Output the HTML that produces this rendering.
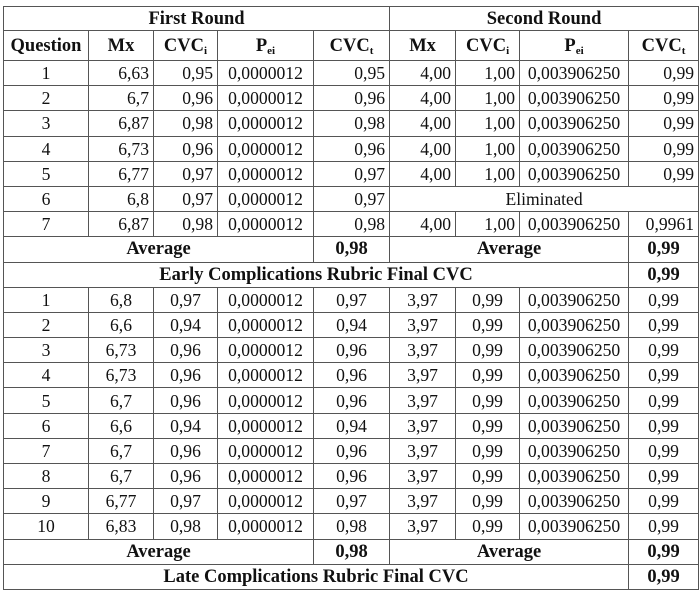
<!DOCTYPE html>
<html><head><meta charset="utf-8"><style>
html,body{margin:0;padding:0;background:#fff;}
table{position:absolute;left:3px;top:6px;border-collapse:collapse;table-layout:fixed;width:695px;font-family:"Liberation Serif",serif;font-size:17.6px;color:#111;}
td{border:1px solid #555;padding:0 4px;height:24.2px;line-height:18px;text-align:center;white-space:nowrap;overflow:hidden;}
.r{text-align:right;}
.b td,td.b{font-weight:bold;font-size:18.5px;}
tr.h0 td{height:23px;}
tr.h1 td{height:29px;font-weight:bold;font-size:18.5px;}
sub{font-size:11px;vertical-align:-3px;line-height:0;}
</style></head><body>
<table>
<colgroup><col style="width:85px"><col style="width:65px"><col style="width:64px"><col style="width:96px"><col style="width:76px"><col style="width:66px"><col style="width:64px"><col style="width:109px"><col style="width:70px"></colgroup>
<tr class="h0"><td colspan="5" class="b">First Round</td><td colspan="4" class="b">Second Round</td></tr>
<tr class="h1"><td>Question</td><td>Mx</td><td>CVC<sub>i</sub></td><td>P<sub>ei</sub></td><td>CVC<sub>t</sub></td><td>Mx</td><td>CVC<sub>i</sub></td><td>P<sub>ei</sub></td><td>CVC<sub>t</sub></td></tr>
<tr><td>1</td><td class="r">6,63</td><td class="r">0,95</td><td>0,0000012</td><td class="r">0,95</td><td class="r">4,00</td><td class="r">1,00</td><td>0,003906250</td><td class="r">0,99</td></tr>
<tr><td>2</td><td class="r">6,7</td><td class="r">0,96</td><td>0,0000012</td><td class="r">0,96</td><td class="r">4,00</td><td class="r">1,00</td><td>0,003906250</td><td class="r">0,99</td></tr>
<tr><td>3</td><td class="r">6,87</td><td class="r">0,98</td><td>0,0000012</td><td class="r">0,98</td><td class="r">4,00</td><td class="r">1,00</td><td>0,003906250</td><td class="r">0,99</td></tr>
<tr><td>4</td><td class="r">6,73</td><td class="r">0,96</td><td>0,0000012</td><td class="r">0,96</td><td class="r">4,00</td><td class="r">1,00</td><td>0,003906250</td><td class="r">0,99</td></tr>
<tr><td>5</td><td class="r">6,77</td><td class="r">0,97</td><td>0,0000012</td><td class="r">0,97</td><td class="r">4,00</td><td class="r">1,00</td><td>0,003906250</td><td class="r">0,99</td></tr>
<tr><td>6</td><td class="r">6,8</td><td class="r">0,97</td><td>0,0000012</td><td class="r">0,97</td><td colspan="4">Eliminated</td></tr>
<tr><td>7</td><td class="r">6,87</td><td class="r">0,98</td><td>0,0000012</td><td class="r">0,98</td><td class="r">4,00</td><td class="r">1,00</td><td>0,003906250</td><td class="r">0,9961</td></tr>
<tr class="b"><td colspan="4">Average</td><td>0,98</td><td colspan="3">Average</td><td>0,99</td></tr>
<tr class="b"><td colspan="8">Early Complications Rubric Final CVC</td><td>0,99</td></tr>
<tr><td>1</td><td>6,8</td><td>0,97</td><td>0,0000012</td><td>0,97</td><td>3,97</td><td>0,99</td><td>0,003906250</td><td>0,99</td></tr>
<tr><td>2</td><td>6,6</td><td>0,94</td><td>0,0000012</td><td>0,94</td><td>3,97</td><td>0,99</td><td>0,003906250</td><td>0,99</td></tr>
<tr><td>3</td><td>6,73</td><td>0,96</td><td>0,0000012</td><td>0,96</td><td>3,97</td><td>0,99</td><td>0,003906250</td><td>0,99</td></tr>
<tr><td>4</td><td>6,73</td><td>0,96</td><td>0,0000012</td><td>0,96</td><td>3,97</td><td>0,99</td><td>0,003906250</td><td>0,99</td></tr>
<tr><td>5</td><td>6,7</td><td>0,96</td><td>0,0000012</td><td>0,96</td><td>3,97</td><td>0,99</td><td>0,003906250</td><td>0,99</td></tr>
<tr><td>6</td><td>6,6</td><td>0,94</td><td>0,0000012</td><td>0,94</td><td>3,97</td><td>0,99</td><td>0,003906250</td><td>0,99</td></tr>
<tr><td>7</td><td>6,7</td><td>0,96</td><td>0,0000012</td><td>0,96</td><td>3,97</td><td>0,99</td><td>0,003906250</td><td>0,99</td></tr>
<tr><td>8</td><td>6,7</td><td>0,96</td><td>0,0000012</td><td>0,96</td><td>3,97</td><td>0,99</td><td>0,003906250</td><td>0,99</td></tr>
<tr><td>9</td><td>6,77</td><td>0,97</td><td>0,0000012</td><td>0,97</td><td>3,97</td><td>0,99</td><td>0,003906250</td><td>0,99</td></tr>
<tr><td>10</td><td>6,83</td><td>0,98</td><td>0,0000012</td><td>0,98</td><td>3,97</td><td>0,99</td><td>0,003906250</td><td>0,99</td></tr>
<tr class="b"><td colspan="4">Average</td><td>0,98</td><td colspan="3">Average</td><td>0,99</td></tr>
<tr class="b"><td colspan="8">Late Complications Rubric Final CVC</td><td>0,99</td></tr>
</table>
</body></html>
